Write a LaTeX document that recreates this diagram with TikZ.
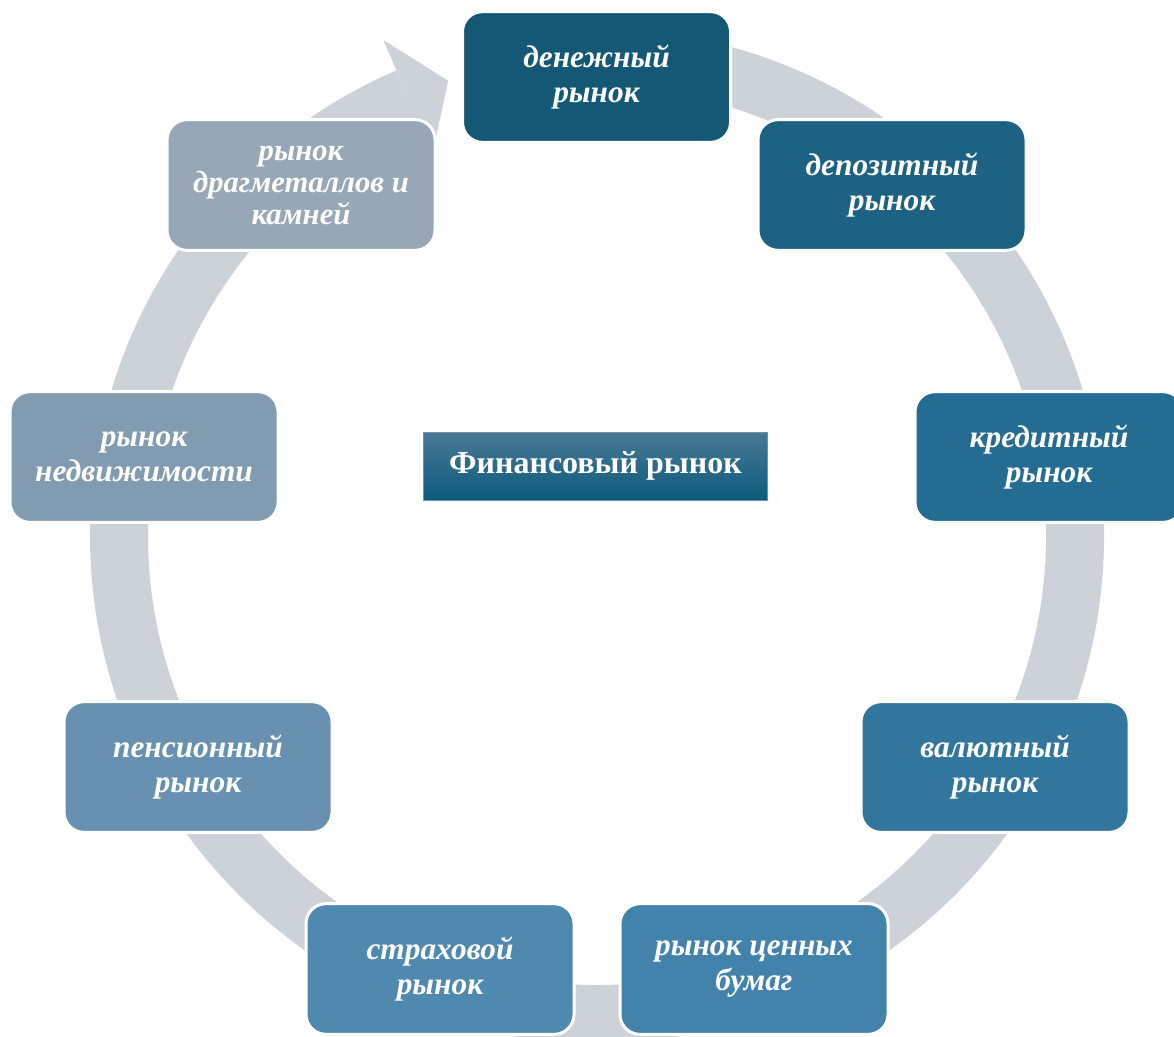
\documentclass[tikz,border=0pt]{standalone}
\usepackage{fontspec}
\setmainfont{Liberation Serif}
\definecolor{ringgrey}{RGB}{205,210,217}
\definecolor{mktA}{RGB}{21,88,118}
\definecolor{mktB}{RGB}{30,98,131}
\definecolor{mktC}{RGB}{37,108,146}
\definecolor{mktD}{RGB}{50,117,157}
\definecolor{mktE}{RGB}{66,130,171}
\definecolor{mktF}{RGB}{80,137,175}
\definecolor{mktG}{RGB}{104,145,177}
\definecolor{mktH}{RGB}{129,156,177}
\definecolor{mktI}{RGB}{151,167,182}
\definecolor{titletop}{RGB}{74,121,150}
\definecolor{titlebot}{RGB}{12,90,124}
\begin{document}
\begin{tikzpicture}[x=0.75pt,y=0.75pt,yscale=-1,xscale=1,
	ring/.style={line width=43.5pt, draw=ringgrey},
	mkt/.style={draw=white, line width=2.25pt, rounded corners=15pt, minimum width=201pt, minimum height=98pt, inner sep=2pt, align=center, text=white, font=\bfseries\itshape\fontsize{23.5}{26}\selectfont},
	finbox/.style={draw=titletop!80!white, line width=0.6pt, top color=titletop, bottom color=titlebot, minimum width=258pt, minimum height=51pt, text=white, font=\bfseries\fontsize{24}{28}\selectfont}]
		\useasboundingbox (0,0) rectangle (1174,1036);
		\coordinate (c) at (597,536);
		% ring with one arrow head before the first box
		\draw [ring] (c) ++(-95:478) arc (-95:246.7:478);
		\fill [ringgrey, shift={(597,536)}] (246.7:540) -- (251.9:479) -- (246.7:416) -- cycle;
		% markets
		\node [mkt, fill=mktA] (money) at (596.5,77) {денежный\\рынок};
		\node [mkt, fill=mktB] (deposit) at (892,185) {депозитный\\рынок};
		\node [mkt, fill=mktC] (credit) at (1049,457) {кредитный\\рынок};
		\node [mkt, fill=mktD] (currency) at (995,767) {валютный\\рынок};
		\node [mkt, fill=mktE] (securities) at (754,969) {рынок ценных\\бумаг};
		\node [mkt, fill=mktF] (insurance) at (440,969) {страховой\\рынок};
		\node [mkt, fill=mktG] (pension) at (198,767) {пенсионный\\рынок};
		\node [mkt, fill=mktH] (realty) at (144,457) {рынок\\недвижимости};
		\node [mkt, fill=mktI, font=\bfseries\itshape\fontsize{23}{24}\selectfont] (metals) at (301,185) {рынок\\драгметаллов и\\камней};
		% centre
		\node [finbox] (fin) at (595.5,466) {Финансовый рынок};
\end{tikzpicture}
\end{document}
